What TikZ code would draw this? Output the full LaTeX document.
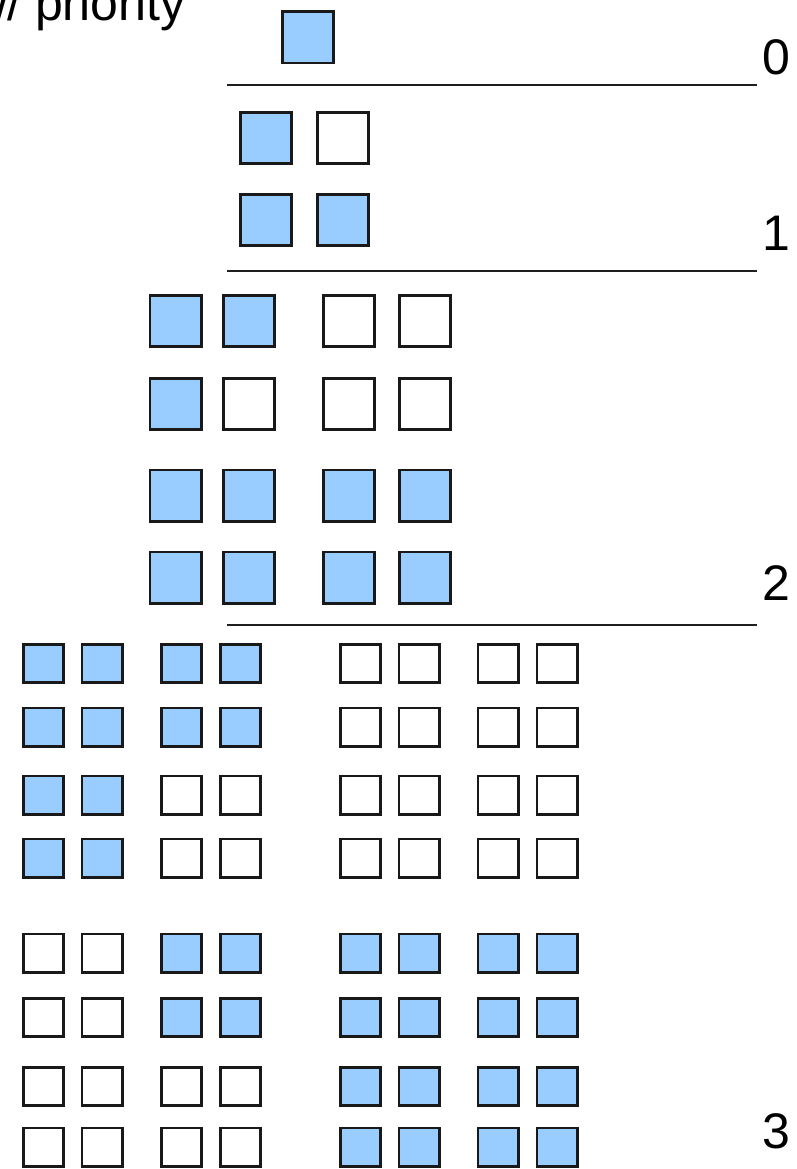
\documentclass[tikz,border=0pt]{standalone}
\usepackage{fontspec}
\setmainfont{Liberation Sans}
\definecolor{boxblue}{RGB}{153,204,255}
\definecolor{rulegray}{RGB}{30,30,30}
\newcommand\smallrow[3]{%
  \foreach \f [count=\c] in {#3} {%
    \pgfmathsetmacro\xx{{43.5,102,181.5,240.5,360.5,419,498,557}[\c-1]}%
    \node[smallbox,\f] (#1-\c) at (\xx,#2) {};
  }%
}
\newcommand\bigrow[3]{%
  \foreach \f [count=\c] in {#3} {%
    \pgfmathsetmacro\xx{{175.5,249,349,425}[\c-1]}%
    \node[bigbox,\f] (#1-\c) at (\xx,#2) {};
  }%
}
\begin{document}
\begin{tikzpicture}[x=1pt,y=-1pt,
  box/.style={draw=black!90, line width=2.8pt, inner sep=0pt, outer sep=0pt},
  bigbox/.style={box, minimum width=51.2pt, minimum height=51.2pt},
  smallbox/.style={box, minimum width=40.2pt, minimum height=38.2pt},
  bf/.style={fill=boxblue},
  wf/.style={fill=white},
  rule/.style={draw=rulegray, line width=2.4pt},
  lvl/.style={font=\fontsize{50}{60}\selectfont, inner sep=0pt, anchor=base},
  ttl/.style={font=\fontsize{50}{60}\selectfont, inner sep=0pt, anchor=base west}]
\useasboundingbox (0,0) rectangle (797,1169);
% title (clipped at the page edge, as in the reference)
\node[ttl] (title) at (-29,21) {w/ priority};
% level 0
\node[bigbox,bf] (l0) at (308,37.5) {};
\coordinate (r0a) at (227,85); \coordinate (r0b) at (757,85);
\draw[rule] (r0a) -- (r0b);
\node[lvl] (n0) at (776,75) {0};
% level 1
\node[bigbox,bf] (l1a1) at (266,138) {};
\node[bigbox,wf] (l1a2) at (343,138) {};
\node[bigbox,bf] (l1b1) at (266,220) {};
\node[bigbox,bf] (l1b2) at (343,220) {};
\coordinate (r1a) at (227,271); \coordinate (r1b) at (757,271);
\draw[rule] (r1a) -- (r1b);
\node[lvl] (n1) at (776,250) {1};
% level 2
\bigrow{l2a}{321}{bf,bf,wf,wf}
\bigrow{l2b}{404}{bf,wf,wf,wf}
\bigrow{l2c}{495.5}{bf,bf,bf,bf}
\bigrow{l2d}{577.5}{bf,bf,bf,bf}
\coordinate (r2a) at (227,625); \coordinate (r2b) at (757,625);
\draw[rule] (r2a) -- (r2b);
\node[lvl] (n2) at (776,600) {2};
% level 3
\smallrow{l3a}{663.5}{bf,bf,bf,bf,wf,wf,wf,wf}
\smallrow{l3b}{727}{bf,bf,bf,bf,wf,wf,wf,wf}
\smallrow{l3c}{795}{bf,bf,wf,wf,wf,wf,wf,wf}
\smallrow{l3d}{858}{bf,bf,wf,wf,wf,wf,wf,wf}
\smallrow{l3e}{953}{wf,wf,bf,bf,bf,bf,bf,bf}
\smallrow{l3f}{1017.5}{wf,wf,bf,bf,bf,bf,bf,bf}
\smallrow{l3g}{1086.5}{wf,wf,wf,wf,bf,bf,bf,bf}
\smallrow{l3h}{1147}{wf,wf,wf,wf,bf,bf,bf,bf}
\node[lvl] (n3) at (776,1148) {3};
\end{tikzpicture}
\end{document}
